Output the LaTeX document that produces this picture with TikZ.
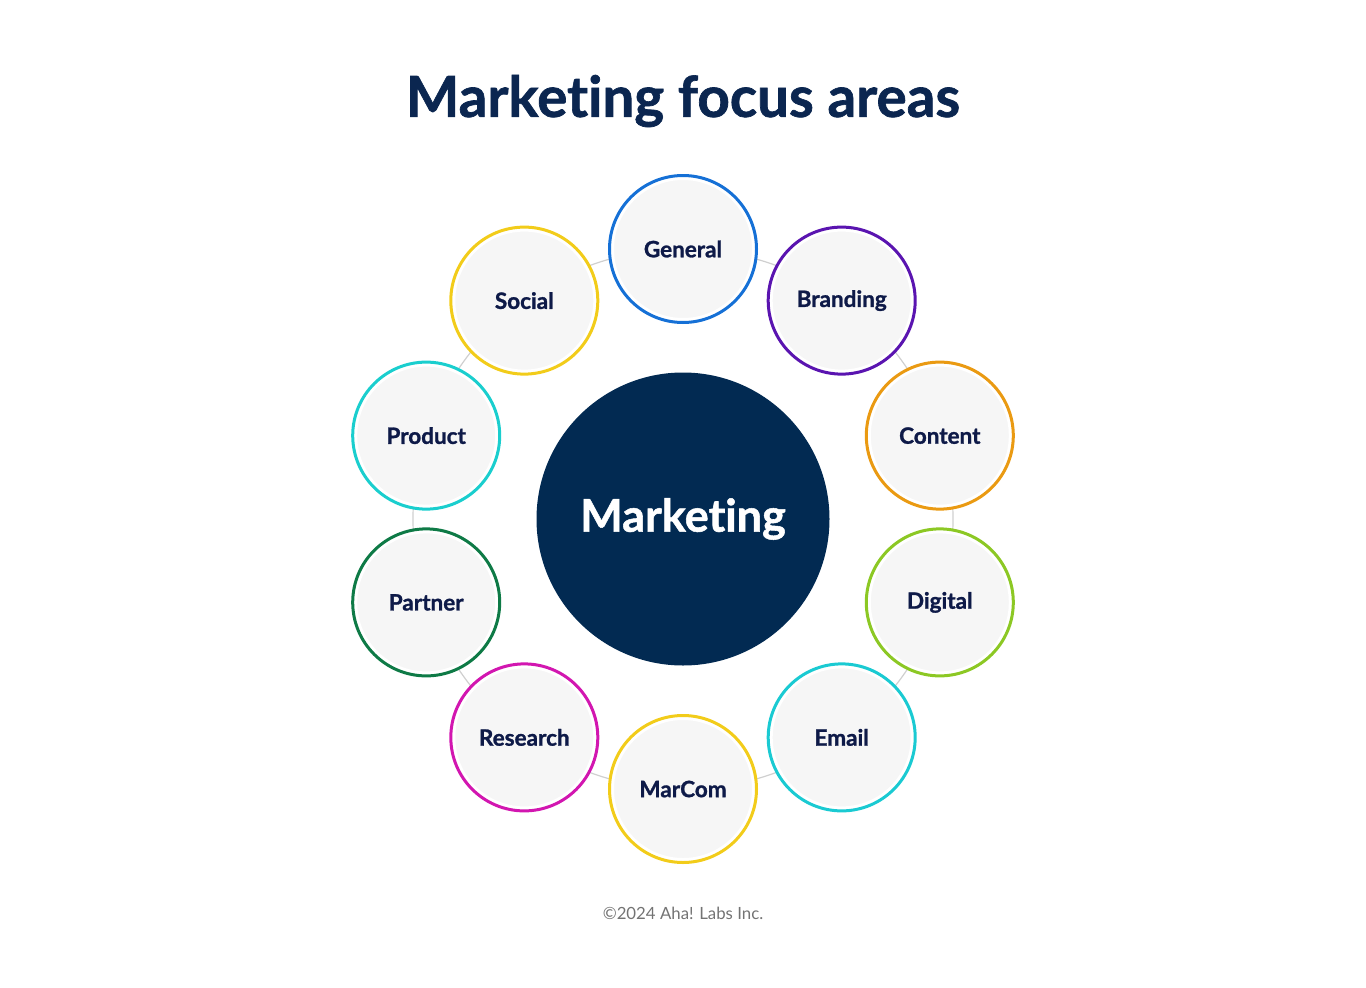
\documentclass[tikz,border=0pt]{standalone}
\usepackage{fontspec}
\setmainfont{Lato}[Ligatures=NoCommon, BoldFeatures={FakeBold=1.2}]
\newfontfamily\footfont{Lato}[Ligatures=NoCommon]
\definecolor{navy}{HTML}{022A52}
\definecolor{titlecol}{HTML}{0B2650}
\definecolor{labelcol}{HTML}{0E1A48}
\definecolor{fillgray}{HTML}{F6F6F6}
\definecolor{ringgray}{HTML}{CFCFCF}
\definecolor{cGeneral}{HTML}{1570D6}
\definecolor{cBranding}{HTML}{5A14B0}
\definecolor{cContent}{HTML}{EA9A12}
\definecolor{cDigital}{HTML}{8CC824}
\definecolor{cEmail}{HTML}{1ACAD2}
\definecolor{cYellow}{HTML}{F2CC1A}
\definecolor{cResearch}{HTML}{D216B0}
\definecolor{cPartner}{HTML}{0E7A46}
\definecolor{cProduct}{HTML}{1ACECE}
\tikzset{
  area/.style={circle, minimum size=147pt, inner sep=0pt, outer sep=0pt,
    fill=fillgray, draw=#1, line width=3pt,
    font=\fontsize{22.5}{26}\selectfont\bfseries, text=labelcol,
    path picture={\draw[white, line width=9pt] (path picture bounding box.center) circle (73.5pt);}},
  hub/.style={circle, minimum size=293pt, inner sep=0pt, fill=navy,
    font=\fontsize{45}{52}\selectfont\bfseries, text=white},
  orbit/.style={draw=ringgray, line width=1.2pt}
}
\begin{document}
\begin{tikzpicture}[x=1pt,y=-1pt]
\useasboundingbox (0,0) rectangle (1366,988);
\node[font=\fontsize{56.5}{62}\selectfont\bfseries, text=titlecol] (title) at (683,101) {Marketing focus areas};
\coordinate (c) at (683,519);
\draw[orbit] (c) circle (270pt);
\node[hub] (hub) at (c) {Marketing};
\node[area=cGeneral]  (general)  at (683,249)   {General};
\node[area=cBranding] (branding) at (841.7,300.6) {Branding};
\node[area=cContent]  (content)  at (939.8,435.6) {Content};
\node[area=cDigital]  (digital)  at (939.8,602.4) {Digital};
\node[area=cEmail]    (email)    at (841.7,737.4) {Email};
\node[area=cYellow]   (marcom)   at (683,789)   {MarCom};
\node[area=cResearch] (research) at (524.3,737.4) {Research};
\node[area=cPartner]  (partner)  at (426.2,602.4) {Partner};
\node[area=cProduct]  (product)  at (426.2,435.6) {Product};
\node[area=cYellow]   (social)   at (524.3,300.6) {Social};
\node[font=\footfont\fontsize{16.8}{20}\selectfont, text=black!55] (foot) at (683,913) {©2024 Aha! Labs Inc.};
\end{tikzpicture}
\end{document}
